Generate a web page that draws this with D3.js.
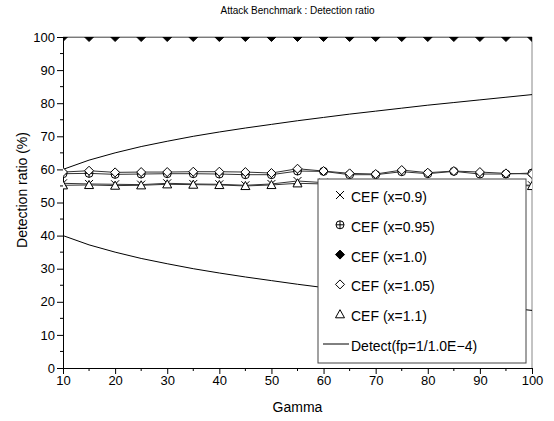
<!DOCTYPE html>
<html><head><meta charset="utf-8">
<script src="https://cdn.jsdelivr.net/npm/d3@7/dist/d3.min.js"></script>
<style>
body{margin:0;background:#fff;}
svg{display:block;font-family:"Liberation Sans",Arial,sans-serif;}
</style></head>
<body><svg id="c" width="554" height="421"></svg>
<script>
const gamma = [10,15,20,25,30,35,40,45,50,55,60,65,70,75,80,85,90,95,100];
const cef090 = [55.8,55.6,55.5,55.4,55.8,55.6,55.5,55.2,55.6,56.5,56.0,55.5,55.4,55.8,55.5,55.6,55.3,55.5,55.2];
const cef095 = [58.7,58.8,58.5,58.6,58.7,58.7,58.6,58.4,58.4,59.5,59.4,58.4,58.4,59.3,58.7,59.4,58.6,58.6,58.9];
const cef100 = [100,100,100,100,100,100,100,100,100,100,100,100,100,100,100,100,100,100,100];
const cef105 = [59.2,59.6,59.1,59.2,59.2,59.3,59.3,59.2,58.9,60.2,59.5,58.8,58.6,59.8,59.0,59.5,59.2,58.8,58.6];
const cef110 = [55.2,55.3,55.1,55.2,55.5,55.4,55.3,55.0,55.3,55.8,55.6,55.2,55.3,55.5,55.2,55.4,55.1,55.3,55.0];
const detectUpper = [60.0,62.8,65.0,66.9,68.5,70.0,71.3,72.5,73.6,74.7,75.7,76.7,77.6,78.5,79.4,80.2,81.0,81.8,82.6];
const detectLower = [40.0,37.2,35.0,33.1,31.5,30.0,28.7,27.5,26.4,25.3,24.3,23.3,22.4,21.5,20.6,19.8,19.0,18.2,17.4];
const xTicks = [10,20,30,40,50,60,70,80,90,100];
const yTicks = [0,10,20,30,40,50,60,70,80,90,100];
const legendLabels = ["CEF (x=0.9)","CEF (x=0.95)","CEF (x=1.0)","CEF (x=1.05)","CEF (x=1.1)","Detect(fp=1/1.0E\u22124)"];
const markerTypes = ["x","oplus","fdiamond","diamond","triangle"];

const L=63,R=532,T=37,B=368;
const svg=d3.select("#c");
const x=d3.scaleLinear().domain([10,100]).range([L,R]);
const y=d3.scaleLinear().domain([0,100]).range([B,T]);

svg.append("text").attr("x",(L+R)/2).attr("y",14).attr("text-anchor","middle")
  .attr("font-size",10).text("Attack Benchmark : Detection ratio");

svg.append("defs").append("clipPath").attr("id","clip").append("rect")
  .attr("x",L).attr("y",T).attr("width",R-L).attr("height",B-T);

// frame
svg.append("line").attr("x1",L).attr("x2",R).attr("y1",T).attr("y2",T).attr("stroke","#888");
svg.append("line").attr("x1",R).attr("x2",R).attr("y1",T).attr("y2",B).attr("stroke","#888");

// axes
const ax=svg.append("g").attr("transform",`translate(0,${B})`)
  .call(d3.axisBottom(x).tickValues(xTicks).tickSize(6).tickPadding(2).tickSizeOuter(0));
const minorX=d3.range(15,100,10);
svg.append("g").selectAll("line").data(minorX).join("line")
  .attr("x1",d=>x(d)).attr("x2",d=>x(d)).attr("y1",B).attr("y2",B+3).attr("stroke","#000");
const ay=svg.append("g").attr("transform",`translate(${L},0)`)
  .call(d3.axisLeft(y).tickValues(yTicks).tickSize(6).tickPadding(2).tickSizeOuter(0));
const minorY=d3.range(5,100,10);
svg.append("g").selectAll("line").data(minorY).join("line")
  .attr("x1",L-3).attr("x2",L).attr("y1",d=>y(d)).attr("y2",d=>y(d)).attr("stroke","#000");
[ax,ay].forEach(g=>{
  g.selectAll("text").attr("font-size",13).attr("font-family","Liberation Sans, Arial, sans-serif").attr("fill","#000");
  g.select(".domain").attr("stroke","#000");
  g.selectAll(".tick line").attr("stroke","#000");
});

svg.append("text").attr("x",(L+R)/2).attr("y",412).attr("text-anchor","middle").attr("font-size",14).text("Gamma");
svg.append("text").attr("transform","translate(27,190) rotate(-90)").attr("text-anchor","middle").attr("font-size",14).text("Detection ratio (%)");

// markers
function drawMarker(g,type,cx,cy){
  const s=4;
  if(type==="x"){
    g.append("path").attr("d",`M${cx-s},${cy-s}L${cx+s},${cy+s}M${cx-s},${cy+s}L${cx+s},${cy-s}`)
      .attr("stroke","#000").attr("fill","none");
  } else if(type==="oplus"){
    g.append("circle").attr("cx",cx).attr("cy",cy).attr("r",4).attr("fill","#fff").attr("stroke","#000");
    g.append("path").attr("d",`M${cx-4},${cy}L${cx+4},${cy}M${cx},${cy-4}L${cx},${cy+4}`).attr("stroke","#000");
  } else if(type==="fdiamond"||type==="diamond"){
    const r=4.5;
    g.append("path").attr("d",`M${cx},${cy-r}L${cx+r},${cy}L${cx},${cy+r}L${cx-r},${cy}Z`)
      .attr("fill",type==="fdiamond"?"#000":"#fff").attr("stroke","#000");
  } else if(type==="triangle"){
    const r=4.5;
    g.append("path").attr("d",`M${cx},${cy-r}L${cx+r},${cy+r*0.8}L${cx-r},${cy+r*0.8}Z`)
      .attr("fill","#fff").attr("stroke","#000");
  }
}

const plot=svg.append("g").attr("clip-path","url(#clip)");
const line=d3.line().x((d,i)=>x(gamma[i])).y(d=>y(d));
[detectUpper,detectLower].forEach(s=>{
  plot.append("path").datum(s).attr("d",line).attr("fill","none").attr("stroke","#000").attr("stroke-width",1);
});
const series=[cef090,cef095,cef100,cef105,cef110];
series.forEach((s,k)=>{
  plot.append("path").datum(s).attr("d",line).attr("fill","none").attr("stroke","#333").attr("stroke-width",1);
});
series.forEach((s,k)=>{
  s.forEach((v,i)=>drawMarker(plot,markerTypes[k],x(gamma[i]),y(v)));
});

// legend
const lg=svg.append("g");
lg.append("rect").attr("x",318).attr("y",179).attr("width",208).attr("height",184)
  .attr("fill","#fff").attr("stroke","#444");
legendLabels.forEach((t,i)=>{
  const cy=197+i*29.8;
  if(i<5) drawMarker(lg,markerTypes[i],340,cy-2);
  else lg.append("line").attr("x1",323).attr("x2",349).attr("y1",cy-2).attr("y2",cy-2).attr("stroke","#000");
  lg.append("text").attr("x",351).attr("y",cy+5).attr("font-size",14).text(t);
});
</script></body></html>
